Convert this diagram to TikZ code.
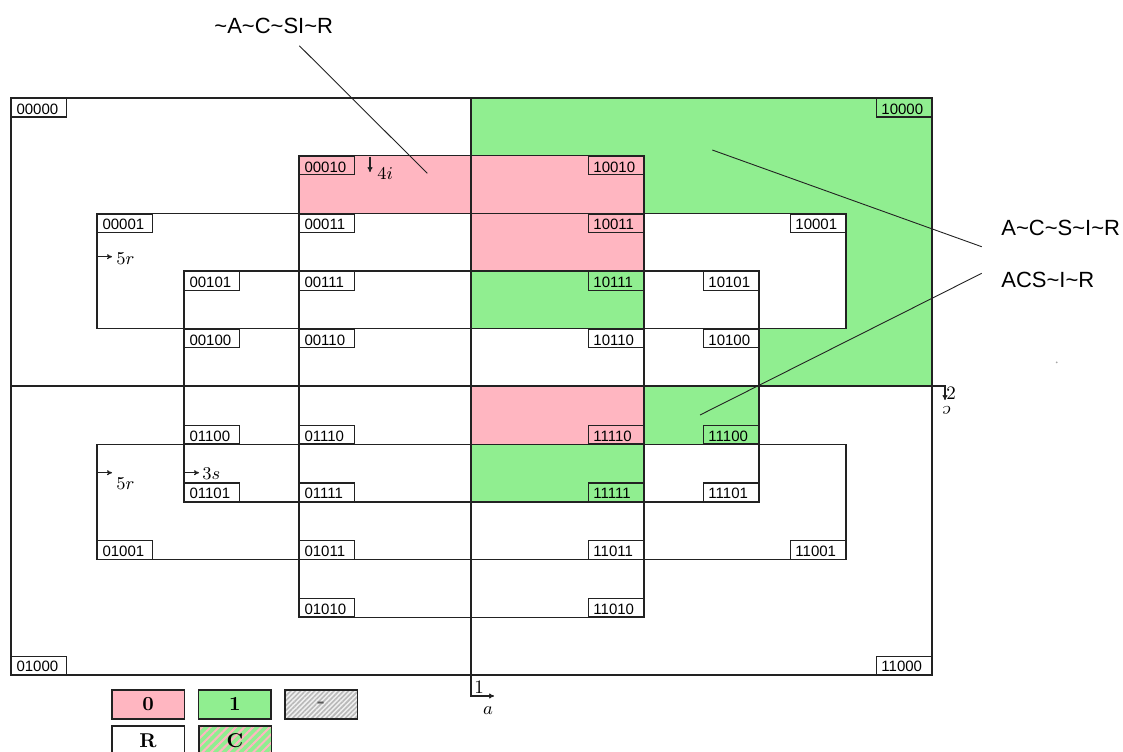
\documentclass[tikz,border=0pt]{standalone}
\usepackage{fontspec}
\newfontfamily\lblfont{Liberation Sans}
\usetikzlibrary{arrows.meta,patterns.meta}
\definecolor{zeropink}{HTML}{FFB6C1}
\definecolor{onegreen}{HTML}{90EE90}
\definecolor{inkgray}{HTML}{222222}
\newcommand\tld{\textasciitilde}
\tikzset{
  cell/.style={draw=inkgray,line width=0.65pt},
  code/.style={draw=inkgray,line width=0.55pt,font=\lblfont\fontsize{7.5}{8}\selectfont,
    inner xsep=2.5pt,inner ysep=1.3pt,text width=22.5pt,align=left,text height=6.6pt,text depth=0pt},
  leg/.style={draw=inkgray,line width=0.8pt,minimum width=36.3pt,minimum height=14.5pt,
    font=\bfseries\fontsize{10}{11}\selectfont,inner sep=0pt,anchor=north west},
  tag/.style={font=\fontsize{9.5}{10}\selectfont,inner sep=0pt},
  note/.style={font=\lblfont\fontsize{11}{12}\selectfont,inner sep=0pt,anchor=base west},
  lead/.style={draw=inkgray,line width=0.45pt}
}
\begin{document}
\begin{tikzpicture}[x=0.5pt,y=-0.5pt,>={To[length=2.5pt,width=2.5pt]}]
\useasboundingbox (0,0) rectangle (1123,751);
\fill[onegreen] (471,98) rectangle (932,386);
\fill[white] (644,213.4) rectangle (846,328.8) (471,328.8) rectangle (759,386);
\fill[zeropink] (471,155.7) rectangle (644,271.1) (299,155.7) rectangle (471,213.4)
    (471,386) rectangle (644,444.2);
\fill[onegreen] (644,386) rectangle (759,444.2) (471,444.2) rectangle (644,501.9);

\draw[cell] (11,98) rectangle (932,675);
\draw[cell] (184,271.1) rectangle (759,501.9);
\draw[cell] (299,155.7) rectangle (644,617.3);
\foreach \y in {213.4,444.2}
{
    \draw[cell] (97,\y) rectangle (846,\y+115.4);
}

\coordinate (aTop) at (471,98);
\coordinate (aEnd) at (494,696);
\draw[cell,->] (aTop) -- (471,696) -- (aEnd);
\node[tag] (aNum) at (479,687) {1};
\node[tag] (aVar) at (488,711) {$a$};
\coordinate (bLeft) at (11,386);
\coordinate (bEnd) at (945,400);
\draw[cell,->] (bLeft) -- (945,386) -- (bEnd);
\node[tag] (bNum) at (951,393) {2};
\node[tag,rotate=180] (bVar) at (947,410) {$c$};

\draw[cell,->] (370,156.7) -- (370,172);
\node[tag,anchor=west] (iTag) at (377,173.5) {$4i$};
\draw[cell,->] (97,256.7) -- (112,256.7);
\node[tag,anchor=west] (rTop) at (116,258.5) {$5r$};
\draw[cell,->] (97,472.7) -- (112,472.7);
\node[tag,anchor=west] (rBot) at (116,484) {$5r$};
\draw[cell,->] (184,472.7) -- (199,472.7);
\node[tag,anchor=west] (sTag) at (202,473.5) {$3s$};

\foreach \n/\x/\y/\a in {00000/11/98/north west,10000/932/98/north east,
  00010/299/155.7/north west,10010/644/155.7/north east,
  00001/97/213.4/north west,00011/299/213.4/north west,10011/644/213.4/north east,10001/846/213.4/north east,
  00101/184/271.1/north west,00111/299/271.1/north west,10111/644/271.1/north east,10101/759/271.1/north east,
  00100/184/328.8/north west,00110/299/328.8/north west,10110/644/328.8/north east,10100/759/328.8/north east,
  01100/184/444.2/south west,01110/299/444.2/south west,11110/644/444.2/south east,11100/759/444.2/south east,
  01101/184/501.9/south west,01111/299/501.9/south west,11111/644/501.9/south east,11101/759/501.9/south east,
  01001/97/559.6/south west,01011/299/559.6/south west,11011/644/559.6/south east,11001/846/559.6/south east,
  01010/299/617.3/south west,11010/644/617.3/south east,
  01000/11/675/south west,11000/932/675/south east}
{
    \node[code,anchor=\a] (c\n) at (\x,\y) {\n};
}

\node[note] (nLow) at (214,33) {\tld A\tld C\tld SI\tld R};
\node[note] (nHigh) at (1001,235) {A\tld C\tld S\tld I\tld R};
\node[note] (nMix) at (1001,287) {ACS\tld I\tld R};
\coordinate (qLow) at (299.3,45.7);
\coordinate (pLow) at (427.3,173.3);
\coordinate (qHigh) at (981.7,246.7);
\coordinate (pHigh) at (712.3,150);
\coordinate (qMix) at (981.7,273.3);
\coordinate (pMix) at (700,415);
\draw[lead] (qLow) -- (pLow);
\draw[lead] (qHigh) -- (pHigh);
\draw[lead] (qMix) -- (pMix);
\fill[gray!70] (1056.7,362.3) circle (1);

\node[leg,fill=zeropink] (kZero) at (111,689) {0};
\node[leg,fill=onegreen] (kOne) at (197.7,689) {1};
\node[leg,preaction={fill=gray!12},pattern={Lines[angle=45,distance=1.7pt,line width=0.8pt]},
  pattern color=gray!55,text=gray!70!black] (kDash) at (284,689) {-};
\node[leg,fill=white] (kR) at (111,725) {R};
\node[leg,preaction={fill=onegreen},pattern={Lines[angle=45,distance=3pt,line width=1pt]},
  pattern color=zeropink] (kC) at (197.7,725) {C};
\end{tikzpicture}
\end{document}
